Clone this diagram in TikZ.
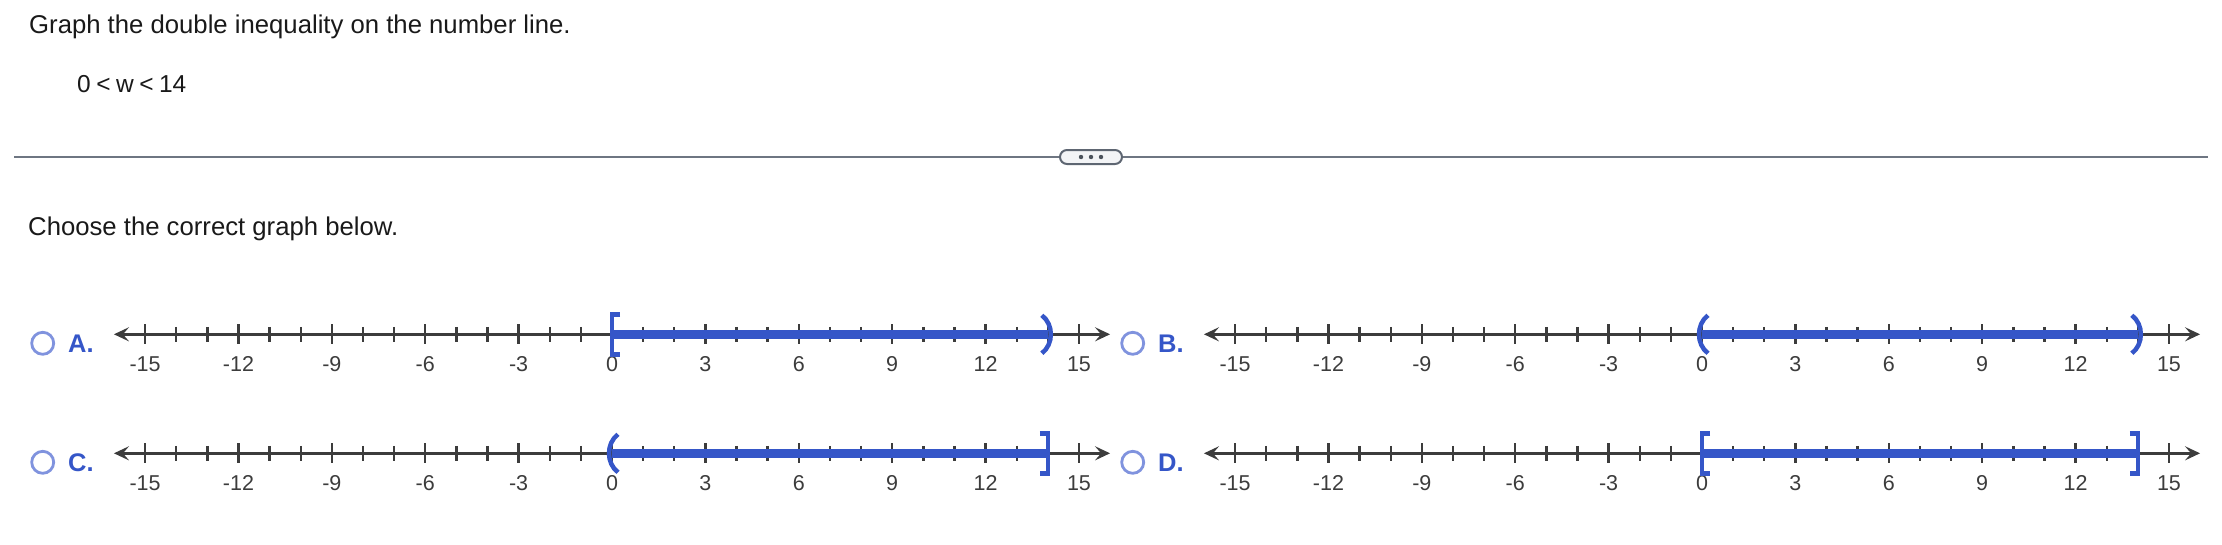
\documentclass[tikz,border=0pt]{standalone}
\usepackage{fontspec}
\setmainfont{Liberation Sans}
\usetikzlibrary{arrows.meta, calc}
\definecolor{axisgray}{HTML}{3C3C3C}
\definecolor{ansblue}{HTML}{3556C8}
\definecolor{radioblue}{HTML}{8093DE}
\definecolor{rulegray}{HTML}{6E7682}
\definecolor{btnfill}{HTML}{F3F4F6}
\definecolor{btnedge}{HTML}{5E6672}

% end marks of the solution interval
\newcommand{\closedL}[1]{\draw[endmark] ($(#1)+(8,-20)$) -- ++(-8,0) -- ++(0,40) -- ++(8,0);}
\newcommand{\closedR}[1]{\draw[endmark] ($(#1)+(-8,-20)$) -- ++(8,0) -- ++(0,40) -- ++(-8,0);}
\newcommand{\openL}[1]{\draw[endmark] ($(#1)+(6,-19)$) .. controls +(-12,9) and +(-12,-9) .. ++(0,38);}
\newcommand{\openR}[1]{\draw[endmark] ($(#1)+(-6,-19)$) .. controls +(12,9) and +(12,-9) .. ++(0,38);}

\begin{document}
\begin{tikzpicture}[x=1pt, y=-1pt,
  txt/.style={anchor=base west, inner sep=0pt, text=black!90, font=\fontsize{25.7}{30}\selectfont},
  axisline/.style={draw=axisgray, line width=2.6pt,
                   {Stealth[length=15pt,width=14pt,inset=6pt]}-{Stealth[length=15pt,width=14pt,inset=6pt]}},
  tickmark/.style={axisgray, line width=2.4pt},
  numlbl/.style={anchor=base, inner sep=0pt, text=axisgray, font=\fontsize{21.5}{24}\selectfont},
  optlbl/.style={anchor=base west, inner sep=0pt, text=ansblue, font=\bfseries\fontsize{25.5}{28}\selectfont},
  radio/.style={draw=radioblue, line width=2.8pt, circle, minimum size=22pt, inner sep=0pt, fill=white},
  solbar/.style={ansblue, line width=9pt},
  endmark/.style={ansblue, line width=4.5pt}
]
\useasboundingbox (0,0) rectangle (2222,544);

% ---- question -----------------------------------------------------------
\node[txt] (title) at (29,33.5) {Graph the double inequality on the number line.};
\node[txt, font=\fontsize{24.5}{28}\selectfont] (ineq) at (77,92)
  {0\hspace{5.5pt}<\hspace{5.5pt}w\hspace{5.5pt}<\hspace{5.5pt}14};

% ---- separator with button ----------------------------------------------
\node[draw=btnedge, fill=btnfill, line width=2pt, rounded corners=7pt,
      minimum width=62pt, minimum height=14pt, inner sep=0pt] (more) at (1091,157) {};
\coordinate (sepL) at (14,157);
\coordinate (sepR) at (2208,157);
\draw[rulegray, line width=1.4pt] (sepL) -- (more.west);
\draw[rulegray, line width=1.4pt] (more.east) -- (sepR);
\foreach \dx in {-10,0,10}
  \fill[btnedge!80!black] ($(more.center)+(\dx,0)$) circle (2.2);

\node[txt] (choose) at (28,235) {Choose the correct graph below.};

% ---- number lines -------------------------------------------------------
\foreach \opt/\xo/\yo in {A/612/334.3, B/1702/334.3, C/612/453.3, D/1702/453.3} {
  \coordinate (\opt-l) at (\xo-16*31.13,\yo);
  \coordinate (\opt-r) at (\xo+16*31.13,\yo);
  \coordinate (\opt-0) at (\xo,\yo);
  \coordinate (\opt-14) at (\xo+14*31.13,\yo);
  \node[radio] (r\opt) at (\xo-569.3,\yo+9) {};
  \node[optlbl] (l\opt) at (\xo-544,\yo+18) {\opt.};
  \draw[axisline] (\opt-l) -- (\opt-r);
  \foreach \k in {-15,-12,...,15} {
    \draw[tickmark] (\xo+\k*31.13,\yo-10) -- (\xo+\k*31.13,\yo+10);
    \node[numlbl] at (\xo+\k*31.13,\yo+37) {\k};
  }
  \foreach \k in {-14,-13,-11,-10,-8,-7,-5,-4,-2,-1,1,2,4,5,7,8,10,11,13,14}
    \draw[tickmark] (\xo+\k*31.13,\yo-7.5) -- (\xo+\k*31.13,\yo+7.5);
  \draw[solbar] (\opt-0) -- (\opt-14);
}

% A: [0,14)   B: (0,14)   C: (0,14]   D: [0,14]
\closedL{A-0} \openR{A-14}
\openL{B-0}   \openR{B-14}
\openL{C-0}   \closedR{C-14}
\closedL{D-0} \closedR{D-14}
\end{tikzpicture}
\end{document}
